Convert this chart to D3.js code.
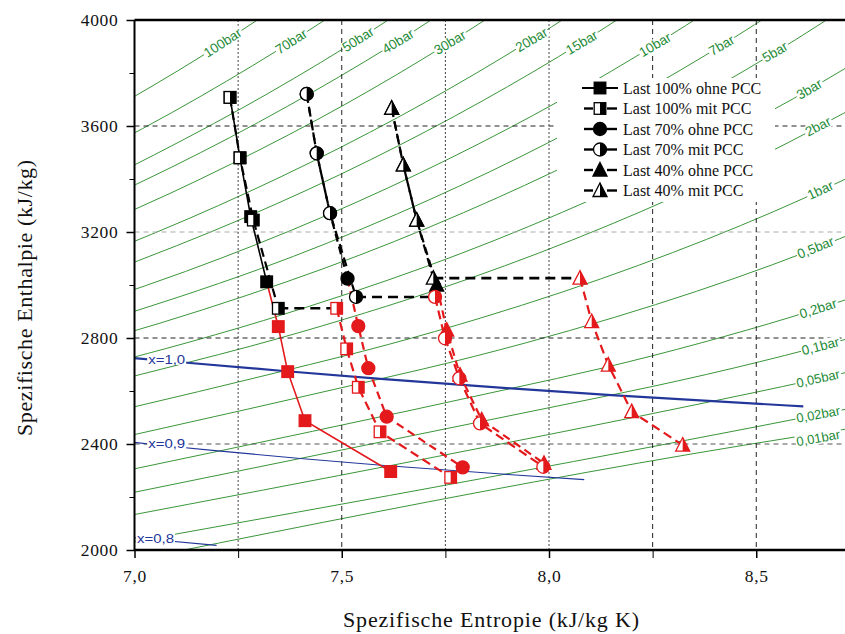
<!DOCTYPE html>
<html><head><meta charset="utf-8">
<script src="https://cdn.jsdelivr.net/npm/d3@7"></script>
<style>
body{margin:0;background:#fff;}
svg{display:block;}
</style></head>
<body><svg id="c" width="845" height="634"></svg>
<script>
// ---------- data ----------
const xTicks = [7.0, 7.5, 8.0, 8.5];
const xMinorTicks = [7.25, 7.75, 8.25];
const yTicks = [2000, 2400, 2800, 3200, 3600, 4000];
const yMinorTicks = [2200, 2600, 3000, 3400, 3800];
const gridX = [7.25, 7.5, 7.75, 8.0, 8.25, 8.5];
const gridY = [2400, 2800, 3200, 3600];

const isobarNames = ["100bar","70bar","50bar","40bar","30bar","20bar","15bar","10bar","7bar","5bar","3bar","2bar","1bar","0,5bar","0,2bar","0,1bar","0,05bar","0,02bar","0,01bar"];
const isobarLabelS = [7.17,7.343,7.504,7.60,7.725,7.922,8.043,8.22,8.388,8.517,8.60,8.62,8.625,8.60,8.605,8.61,8.597,8.597,8.597];
const isobarPoints = [
  [[6.9029,3625],[7.0398,3748],[7.1687,3870],[7.2886,3992],[7.4077,4115]],
  [[6.9486,3531],[7.0894,3650],[7.2221,3769],[7.3476,3888],[7.5822,4128]],
  [[6.9759,3434],[7.1214,3551],[7.2589,3667],[7.5122,3900],[7.7440,4137]],
  [[6.9363,3330],[7.0901,3445],[7.3688,3674],[7.6214,3906],[7.8523,4142]],
  [[6.9212,3231],[7.0834,3344],[7.2338,3457],[7.5085,3682],[7.7571,3912],[7.9862,4145]],
  [[6.9563,3137],[7.1271,3248],[7.4317,3468],[7.7024,3690],[7.9487,3917],[8.1765,4150]],
  [[6.9179,3038],[7.1014,3148],[7.2690,3256],[7.5698,3473],[7.8385,3694],[8.0837,3920],[8.31,4153]],
  [[6.9247,2943],[7.1229,3051],[7.4651,3264],[7.7622,3479],[8.0290,3698],[8.2731,3923],[8.4996,4154]],
  [[6.8865,2845],[7.1053,2954],[7.2997,3059],[7.6350,3269],[7.9299,3483],[8.1956,3702],[8.4391,3926],[8.665,4157]],
  [[6.8213,2749],[7.0592,2855],[7.2709,2961],[7.4599,3064],[7.7938,3273],[8.0873,3485],[8.3522,3702],[8.5952,3926],[8.82,4157]],
  [[6.95,2707],[6.9919,2725],[7.0778,2761],[7.3115,2866],[7.5166,2968],[7.7022,3069],[8.0330,3275],[8.3251,3486],[8.5892,3703],[8.83,3927]],
  [[6.95,2637],[7.1271,2707],[7.2795,2769],[7.5066,2871],[7.7086,2971],[7.8926,3072],[8.2218,3277],[8.5133,3487],[8.777,3704]],
  [[6.95,2522],[7.3594,2675.5],[7.6134,2776],[7.8343,2875],[8.0333,2974],[8.2158,3074],[8.5435,3278],[8.8342,3488]],
  [[6.95,2418],[7.5939,2646],[7.6947,2682.5],[7.9401,2780],[8.1580,2878],[8.3556,2976],[8.5373,3075.5],[8.8642,3279]],
  [[6.95,2290],[7.9085,2609.7],[8.128,2686],[8.368,2782],[8.584,2879],[8.780,2977]],
  [[6.95,2202],[8.1502,2584.7],[8.1749,2592.6],[8.4479,2687.5],[8.6882,2783],[8.9038,2879.5]],
  [[6.95,2119],[8.3951,2561.5],[8.4948,2594],[8.7678,2688.5],[9.008,2784]],
  [[6.95,2018],[8.7237,2533.5],[8.9176,2594]],
  [[6.95,1946.7],[8.9756,2514.2],[9.1,2540]]
];

const qualityNames = ["x=1,0","x=0,9","x=0,8"];
const qualityPoints = [
  [[6.9919,2725.3],[7.1271,2706.7],[7.3594,2675.5],[7.5939,2645.9],[7.9085,2609.7],[8.1502,2584.7],[8.3951,2561.5],[8.6135,2542]],
  [[6.944,2415.4],[7.086,2391.7],[7.201,2373.9],[7.400,2345.3],[7.603,2319.1],[7.877,2287.5],[8.085,2265.7]],
  [[6.933,2056.6],[7.031,2041.5],[7.198,2017.5]]
];
const qualityLabelS = [7.033, 7.033, 7.006];

// load cases: high pressure part (black) and low pressure part (red)
const last100ohneHP = [[7.2304,3708],[7.2545,3480],[7.2803,3258],[7.3189,3012]];
const last100ohneLP = [[7.3469,2843],[7.3696,2673],[7.4113,2488],[7.6181,2296]];
const last100mitHP  = [[7.2304,3708],[7.2545,3480],[7.2866,3245],[7.3469,2912]];
const last100mitLP  = [[7.4878,2912],[7.5119,2759],[7.5399,2614],[7.5923,2446],[7.7628,2274]];
const last70ohneHP  = [[7.4154,3721],[7.4396,3497],[7.4717,3271],[7.5139,3024]];
const last70ohneLP  = [[7.5399,2845],[7.5641,2686],[7.6084,2503],[7.7918,2312]];
const last70mitHP   = [[7.4154,3721],[7.4396,3497],[7.4717,3271],[7.5344,2955]];
const last70mitLP   = [[7.725,2955],[7.7491,2799],[7.7836,2648],[7.8335,2478],[7.9863,2314]];
const last40ohneHP  = [[7.6205,3667],[7.6485,3453],[7.6808,3245],[7.7291,3000]];
const last40ohneLP  = [[7.7532,2830],[7.7853,2660],[7.8376,2491],[7.9879,2327]];
const last40mitHP   = [[7.6205,3667],[7.6485,3453],[7.6808,3245],[7.7209,3026]];
const last40mitLP   = [[8.0748,3026],[8.103,2862],[8.1431,2698],[8.1995,2522],[8.3226,2396]];

const legendLabels = ["Last 100% ohne PCC","Last 100% mit PCC","Last 70% ohne PCC","Last 70% mit PCC","Last 40% ohne PCC","Last 40% mit PCC"];

// ---------- setup ----------
const svg = d3.select("#c");
const W = 845, H = 634;
const L = 134.5, T = 20, B = 550;
const x = d3.scaleLinear().domain([7.0, 8.5]).range([L, L + 1.5*414.5]);
const y = d3.scaleLinear().domain([2000, 4000]).range([B, T]);
const RED = "#e3191c", GREEN = "#3a963a", LGREEN = "#1d8a36", BLUE = "#23379a";

svg.append("defs").append("clipPath").attr("id","clip")
  .append("rect").attr("x",L).attr("y",T).attr("width",W-L).attr("height",B-T);
const plot = svg.append("g").attr("clip-path","url(#clip)");

const line = d3.line().x(d=>x(d[0])).y(d=>y(d[1]));
const curve = d3.line().x(d=>x(d[0])).y(d=>y(d[1])).curve(d3.curveMonotoneX);

function interp(pts, s){
  for(let i=0;i<pts.length-1;i++){
    if(s>=pts[i][0] && s<=pts[i+1][0]){
      const t=(s-pts[i][0])/(pts[i+1][0]-pts[i][0]);
      return pts[i][1]+t*(pts[i+1][1]-pts[i][1]);
    }
  }
  return pts[pts.length-1][1];
}
function labelOnLine(g, pts, s, text, color, size, family){
  const px = x(s), py = y(interp(pts,s));
  const px2 = x(s+0.03), py2 = y(interp(pts,s+0.03));
  const ang = Math.atan2(py2-py, px2-px)*180/Math.PI;
  const lg = g.append("g").attr("transform",`translate(${px},${py}) rotate(${ang})`);
  const t = lg.append("text").text(text).attr("dy","0.35em")
     .attr("fill",color).attr("font-size",size).attr("font-family",family);
  const bb = t.node().getBBox();
  lg.insert("rect","text").attr("x",bb.x-1).attr("y",bb.y+1.5).attr("width",bb.width+2).attr("height",bb.height-3).attr("fill","#fff");
}

// ---------- isobars ----------
isobarPoints.forEach(pts=>{
  plot.append("path").attr("d",curve(pts)).attr("fill","none").attr("stroke",GREEN).attr("stroke-width",1);
});

// ---------- grid ----------
gridY.forEach(v=>{
  plot.append("line").attr("x1",L).attr("x2",W).attr("y1",y(v)).attr("y2",y(v))
    .attr("stroke", v===3200 ? "#aaa" : (v===2400 ? "#555" : "#222")).attr("stroke-width",1)
    .attr("stroke-dasharray","5,4");
});
gridX.forEach(v=>{
  const dotted = (v===7.25 || v===7.75 || v===8.0);
  plot.append("line").attr("x1",x(v)).attr("x2",x(v)).attr("y1",T).attr("y2",B)
    .attr("stroke", dotted ? "#444" : "#222").attr("stroke-width",1)
    .attr("stroke-dasharray", dotted ? "2,2" : "5,4");
});

// ---------- quality lines ----------
qualityPoints.forEach((pts,i)=>{
  plot.append("path").attr("d",curve(pts)).attr("fill","none").attr("stroke",BLUE)
    .attr("stroke-width", i===0 ? 2.2 : 1.1);
});

// isobar labels
const labelG = plot.append("g");
isobarPoints.forEach((pts,i)=>{
  labelOnLine(labelG, pts, isobarLabelS[i], isobarNames[i], LGREEN, i>=16 ? 13 : 13.5, "Liberation Sans, Arial, sans-serif");
});
qualityPoints.forEach((pts,i)=>{
  const s = qualityLabelS[i];
  const px = x(s), py = y(interp(pts, Math.max(s, pts[0][0])));
  const qg = labelG.append("g");
  const t = qg.append("text").attr("x",px).attr("y",py).attr("dy","0.35em").text(qualityNames[i])
    .attr("fill",BLUE).attr("font-size",13).attr("font-family","Liberation Sans Narrow, Liberation Sans, Arial, sans-serif")
    .attr("textLength",37).attr("lengthAdjust","spacingAndGlyphs");
  const bb = t.node().getBBox();
  qg.insert("rect","text").attr("x",bb.x-1).attr("y",bb.y+2).attr("width",bb.width+2).attr("height",bb.height-4).attr("fill","#fff");
});

// legend background (covers lines)
plot.append("rect").attr("x",557).attr("y",78).attr("width",218).attr("height",124).attr("fill","#fff");

// ---------- markers ----------
function marker(g, cx, cy, kind, fill, color){
  const m = g.append("g").attr("transform",`translate(${cx},${cy})`);
  const sw = 1.3;
  if(kind==="square"){
    const a=5.8;
    m.append("rect").attr("x",-a).attr("y",-a).attr("width",2*a).attr("height",2*a)
      .attr("fill", fill==="full"?color:"#fff").attr("stroke",color).attr("stroke-width",sw);
    if(fill==="half") m.append("rect").attr("x",0).attr("y",-a).attr("width",a).attr("height",2*a).attr("fill",color);
  } else if(kind==="circle"){
    const r=6.5;
    m.append("circle").attr("r",r).attr("fill", fill==="full"?color:"#fff").attr("stroke",color).attr("stroke-width",sw);
    if(fill==="half") m.append("path").attr("d",`M0,${-r} A${r},${r} 0 0 1 0,${r} Z`).attr("fill",color);
  } else {
    const h1=-7.5, h2=6, w=7;
    m.append("path").attr("d",`M0,${h1} L${w},${h2} L${-w},${h2} Z`)
      .attr("fill", fill==="full"?color:"#fff").attr("stroke",color).attr("stroke-width",sw).attr("stroke-linejoin","miter");
    if(fill==="half") m.append("path").attr("d",`M0,${h1} L${w},${h2} L0,${h2} Z`).attr("fill",color);
  }
}

const dataG = svg.append("g");
function drawCase(hp, lp, kind, mit, solid){
  const dash = solid ? null : (mit ? "9,5" : "8,5");
  const w = solid ? 1.6 : 2.2;
  dataG.append("path").attr("d",line(hp)).attr("fill","none").attr("stroke","#000")
    .attr("stroke-width",w).attr("stroke-dasharray",dash);
  if(mit){
    dataG.append("path").attr("d",line([hp[hp.length-1], lp[0]])).attr("fill","none")
      .attr("stroke","#000").attr("stroke-width",2.6).attr("stroke-dasharray","10,6");
    dataG.append("path").attr("d",line(lp)).attr("fill","none").attr("stroke",RED)
      .attr("stroke-width",w).attr("stroke-dasharray",dash);
  } else {
    dataG.append("path").attr("d",line([hp[hp.length-1]].concat(lp))).attr("fill","none").attr("stroke",RED)
      .attr("stroke-width",w).attr("stroke-dasharray",dash);
  }
  const f = mit ? "half" : "full";
  hp.forEach(p=>marker(dataG, x(p[0]), y(p[1]), kind, f, "#000"));
  lp.forEach(p=>marker(dataG, x(p[0]), y(p[1]), kind, f, RED));
}
drawCase(last100ohneHP, last100ohneLP, "square", false, true);
drawCase(last70ohneHP, last70ohneLP, "circle", false, false);
drawCase(last40ohneHP, last40ohneLP, "triangle", false, false);
drawCase(last100mitHP, last100mitLP, "square", true, false);
drawCase(last70mitHP, last70mitLP, "circle", true, false);
drawCase(last40mitHP, last40mitLP, "triangle", true, false);

// ---------- axes ----------
const serif = "Liberation Serif, Times New Roman, serif";
const yAxis = svg.append("g").attr("transform",`translate(${L},0)`)
  .call(d3.axisLeft(y).tickValues(yTicks).tickSize(8).tickPadding(8).tickFormat(d3.format("d")));
svg.append("g").attr("transform",`translate(${L},0)`)
  .call(d3.axisLeft(y).tickValues(yMinorTicks).tickSize(5).tickFormat(""))
  .call(g=>g.select(".domain").remove());
const xAxis = svg.append("g").attr("transform",`translate(0,${B})`)
  .call(d3.axisBottom(x).tickValues(xTicks).tickSize(8).tickPadding(12).tickFormat(d=>d.toFixed(1).replace(".",",")));
svg.append("g").attr("transform",`translate(0,${B})`)
  .call(d3.axisBottom(x).tickValues(xMinorTicks).tickSize(8).tickFormat(""))
  .call(g=>g.select(".domain").remove());
[yAxis, xAxis].forEach(a=>{
  a.selectAll("text").attr("font-family",serif).attr("font-size",17.5).attr("fill","#111").attr("letter-spacing","0.7px");
  a.selectAll(".tick line").attr("stroke","#000").attr("stroke-width",1.5);
});
svg.selectAll(".domain").remove();
svg.append("line").attr("x1",L).attr("x2",W).attr("y1",B).attr("y2",B).attr("stroke","#000").attr("stroke-width",2.6);
svg.append("line").attr("x1",L).attr("x2",L).attr("y1",T).attr("y2",B+1).attr("stroke","#000").attr("stroke-width",2);
svg.append("line").attr("x1",L).attr("x2",W).attr("y1",T).attr("y2",T).attr("stroke","#000").attr("stroke-width",2.6);

svg.append("text").attr("x",491).attr("y",627).attr("text-anchor","middle")
  .attr("font-family",serif).attr("font-size",22).attr("fill","#111")
  .attr("textLength",296).attr("lengthAdjust","spacing").text("Spezifische Entropie (kJ/kg K)");
svg.append("text").attr("transform","translate(32,298) rotate(-90)").attr("text-anchor","middle")
  .attr("font-family",serif).attr("font-size",22).attr("fill","#111")
  .attr("textLength",276).attr("lengthAdjust","spacing").text("Spezifische Enthalpie (kJ/kg)");

// ---------- legend ----------
const legKinds = ["square","square","circle","circle","triangle","triangle"];
const lg = svg.append("g");
legendLabels.forEach((lab,i)=>{
  const cy = 88 + i*20.5;
  const mit = i%2===1;
  if(i===0){
    lg.append("line").attr("x1",582).attr("x2",618).attr("y1",cy).attr("y2",cy).attr("stroke","#000").attr("stroke-width",2);
  } else {
    lg.append("line").attr("x1",584).attr("x2",593).attr("y1",cy).attr("y2",cy).attr("stroke","#000").attr("stroke-width",2.4);
    lg.append("line").attr("x1",607).attr("x2",617).attr("y1",cy).attr("y2",cy).attr("stroke","#000").attr("stroke-width",2.4);
  }
  marker(lg, 600, cy, legKinds[i], mit ? "half":"full", "#000");
  lg.append("text").attr("x",623).attr("y",cy).attr("dy","0.35em").text(lab)
    .attr("font-family",serif).attr("font-size",16).attr("fill","#111");
});
</script>
</body></html>
